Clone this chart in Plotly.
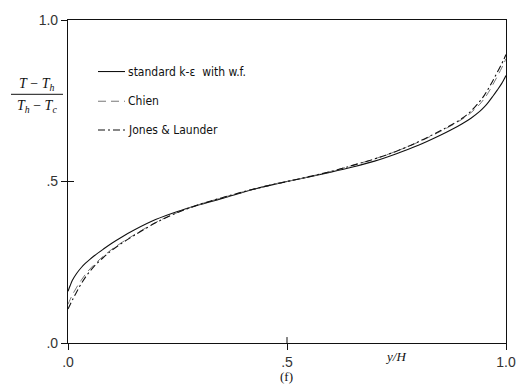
import plotly.graph_objects as go

# Dimensionless wall-normal position y/H
x_pos = [0.00, 0.005, 0.01, 0.02, 0.03, 0.04, 0.05, 0.06, 0.08, 0.10, 0.125, 0.15,
         0.20, 0.25, 0.30, 0.35, 0.40, 0.45, 0.50, 0.55, 0.60, 0.65, 0.70, 0.75,
         0.80, 0.85, 0.875, 0.90, 0.92, 0.94, 0.95, 0.96, 0.97, 0.98, 0.99, 0.995, 1.00]

# Dimensionless temperature (T - Th)/(Th - Tc) for each model
std_ke_wf = [0.160, 0.178, 0.194, 0.216, 0.233, 0.247, 0.259, 0.270, 0.290, 0.309,
             0.330, 0.349, 0.382, 0.407, 0.428, 0.447, 0.467, 0.485, 0.500, 0.514,
             0.529, 0.545, 0.563, 0.586, 0.612, 0.643, 0.660, 0.679, 0.696, 0.717,
             0.730, 0.746, 0.764, 0.783, 0.803, 0.815, 0.828]
chien = [0.120, 0.135, 0.149, 0.173, 0.194, 0.213, 0.229, 0.243, 0.268, 0.290,
         0.313, 0.334, 0.373, 0.404, 0.429, 0.449, 0.468, 0.485, 0.500, 0.515,
         0.531, 0.550, 0.570, 0.594, 0.622, 0.655, 0.673, 0.693, 0.713, 0.739,
         0.756, 0.776, 0.800, 0.825, 0.851, 0.865, 0.880]
jones_launder = [0.105, 0.119, 0.133, 0.159, 0.183, 0.204, 0.222, 0.238, 0.264, 0.287,
                 0.311, 0.332, 0.372, 0.404, 0.429, 0.449, 0.468, 0.485, 0.500, 0.515,
                 0.531, 0.550, 0.570, 0.594, 0.623, 0.657, 0.675, 0.696, 0.718, 0.748,
                 0.766, 0.788, 0.812, 0.838, 0.864, 0.878, 0.893]

series_names = ["standard k-\u03b5  with w.f.", "Chien", "Jones & Launder"]
x_ticks = [0, 0.5, 1.0]
x_tick_text = [".0", ".5", "1.0"]
y_ticks = [0, 0.5, 1.0]
y_tick_text = [".0", ".5", "1.0"]

styles = [
    dict(color="#111111", width=1.1, dash="solid"),
    dict(color="#777777", width=1.0, dash="8px,5px"),
    dict(color="#111111", width=1.1, dash="7px,3px,2px,3px"),
]

fig = go.Figure()
for name, ys, st in zip(series_names, [std_ke_wf, chien, jones_launder], styles):
    fig.add_trace(go.Scatter(x=x_pos, y=ys, mode="lines", name=name,
                             line=dict(shape="spline", smoothing=1.0, **st),
                             showlegend=False))

W, H = 531, 384
L, R, T, B = 68, 25, 17, 41
pw, ph = W - L - R, H - T - B


def px_x(px):
    return (px - L) / pw


def px_y(py):
    return (H - B - py) / ph


# Hand-drawn style legend: sample line + label for each model
legend_rows = [69, 99, 128]
for name, st, ry in zip(series_names, styles, legend_rows):
    fig.add_shape(type="line", xref="paper", yref="paper",
                  x0=px_x(98), x1=px_x(125), y0=px_y(ry), y1=px_y(ry),
                  line=st)
    fig.add_annotation(x=px_x(126), y=px_y(ry), xref="paper", yref="paper",
                       text=name, showarrow=False, xanchor="left", yanchor="middle",
                       font=dict(family="DejaVu Sans Condensed", size=12, color="#111111"))

# Inner halves of the crossing tick marks at .5
fig.add_shape(type="line", xref="paper", yref="paper",
              x0=0, x1=px_x(L + 6), y0=0.5, y1=0.5, line=dict(color="#111111", width=1))
fig.add_shape(type="line", xref="paper", yref="paper",
              x0=0.5, x1=0.5, y0=0, y1=px_y(H - B - 6), line=dict(color="#111111", width=1))

# Stacked fraction for the ordinate label
serif = "Liberation Serif"
fig.add_annotation(x=px_x(37), y=px_y(82), xref="paper", yref="paper",
                   text="<i>T</i> \u2212 <i>T<sub>h</sub></i>", showarrow=False,
                   xanchor="center", yanchor="middle",
                   font=dict(family=serif, size=14, color="#111111"))
fig.add_shape(type="line", xref="paper", yref="paper",
              x0=px_x(11), x1=px_x(63), y0=px_y(92), y1=px_y(92),
              line=dict(color="#111111", width=1))
fig.add_annotation(x=px_x(37), y=px_y(104), xref="paper", yref="paper",
                   text="<i>T<sub>h</sub></i> \u2212 <i>T<sub>c</sub></i>", showarrow=False,
                   xanchor="center", yanchor="middle",
                   font=dict(family=serif, size=14, color="#111111"))

# Abscissa title and panel tag
fig.add_annotation(x=px_x(395), y=px_y(357), xref="paper", yref="paper",
                   text="<i>y/H</i>", showarrow=False, xanchor="center", yanchor="middle",
                   font=dict(family=serif, size=13, color="#111111"))
fig.add_annotation(x=px_x(286), y=px_y(377), xref="paper", yref="paper",
                   text="(f)", showarrow=False, xanchor="center", yanchor="middle",
                   font=dict(family=serif, size=13, color="#111111"))

axis_common = dict(showgrid=False, zeroline=False, showline=True, linecolor="#111111",
                   linewidth=1.2, mirror=True, ticks="outside", ticklen=6,
                   tickcolor="#111111", tickwidth=1,
                   tickfont=dict(family="Liberation Sans", size=14, color="#333333"))

fig.update_xaxes(range=[0, 1], tickvals=x_ticks, ticktext=x_tick_text, **axis_common)
fig.update_yaxes(range=[0, 1], tickvals=y_ticks, ticktext=y_tick_text, **axis_common)

fig.update_layout(width=W, height=H, margin=dict(l=L, r=R, t=T, b=B),
                  paper_bgcolor="white", plot_bgcolor="white")

fig.write_html("out.html")
